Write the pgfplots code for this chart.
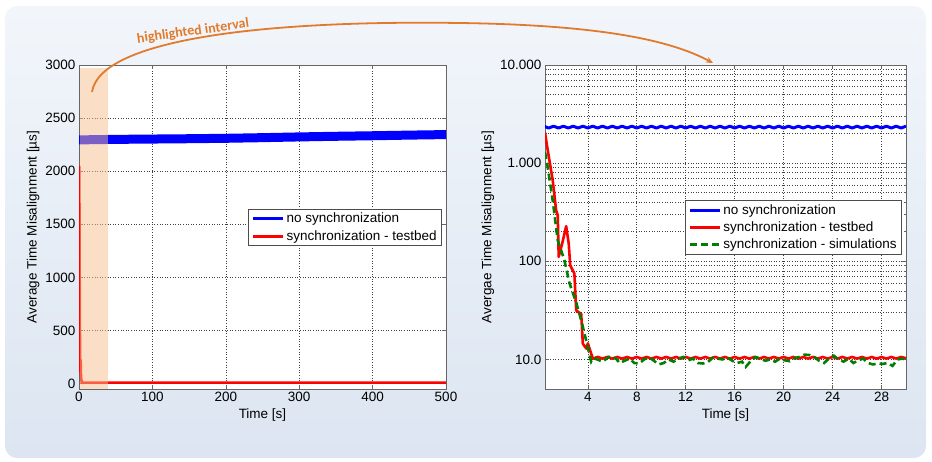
\documentclass[border=0pt]{standalone}
\usepackage{pgfplots}
\pgfplotsset{compat=1.18}
\usepackage{pgfplotstable}
\usepackage{fontspec}
\setmainfont{Liberation Sans}
\newfontfamily\calib{Carlito}
\usetikzlibrary{arrows.meta}
\definecolor{bgtop}{RGB}{242,246,251}
\definecolor{bgbot}{RGB}{220,229,241}
\definecolor{arrowor}{RGB}{226,122,44}
\definecolor{band}{RGB}{247,190,140}
\definecolor{mblue}{RGB}{0,0,255}
\definecolor{mred}{RGB}{255,0,0}
\definecolor{mgreen}{RGB}{0,128,0}

\pgfplotstableread{
t v
0 2295
50 2300
100 2303
150 2306
200 2310
250 2316
300 2323
350 2329
400 2334
450 2340
500 2345
}\blueleft

\pgfplotstableread{
t v
0.5 2050
0.72 1360
1.13 670
1.41 331
1.54 295
1.62 111
1.9 151
2.23 228
2.44 151
2.56 91
2.9 75
3.05 31.6
3.46 29
3.59 14.5
3.87 12.9
4.0 14.6
4.41 10.2
30 10.4
500 10.4
}\redleft

\pgfplotstableread{
t v
0.4 2380
0.8 2280
1.2 2380
1.6 2280
2.0 2380
2.4 2280
2.8 2380
3.2 2280
3.6 2380
4.0 2280
4.4 2380
4.8 2280
5.2 2380
5.6 2280
6.0 2380
6.4 2280
6.8 2380
7.2 2280
7.6 2380
8.0 2280
8.4 2380
8.8 2280
9.2 2380
9.6 2280
10.0 2380
10.4 2280
10.8 2380
11.2 2280
11.6 2380
12.0 2280
12.4 2380
12.8 2280
13.2 2380
13.6 2280
14.0 2380
14.4 2280
14.8 2380
15.2 2280
15.6 2380
16.0 2280
16.4 2380
16.8 2280
17.2 2380
17.6 2280
18.0 2380
18.4 2280
18.8 2380
19.2 2280
19.6 2380
20.0 2280
20.4 2380
20.8 2280
21.2 2380
21.6 2280
22.0 2380
22.4 2280
22.8 2380
23.2 2280
23.6 2380
24.0 2280
24.4 2380
24.8 2280
25.2 2380
25.6 2280
26.0 2380
26.4 2280
26.8 2380
27.2 2280
27.6 2380
28.0 2280
28.4 2380
28.8 2280
29.2 2380
29.6 2280
30.0 2380
}\blueright

\pgfplotstableread{
t v
0.5 2050
0.72 1360
1.13 670
1.41 331
1.54 295
1.62 111
1.9 151
2.23 228
2.44 151
2.56 91
2.9 75
3.05 31.6
3.46 29
3.59 14.5
3.87 12.9
4.0 14.6
4.41 10.2
4.8 10.6
5.2 10.2
5.6 10.6
6.0 10.2
6.4 10.6
6.8 10.2
7.2 10.6
7.6 10.2
8.0 10.6
8.4 10.2
8.8 10.6
9.2 10.2
9.6 10.6
10.0 10.2
10.4 10.6
10.8 10.2
11.2 10.6
11.6 10.2
12.0 10.6
12.4 10.2
12.8 10.6
13.2 10.2
13.6 10.6
14.0 10.2
14.4 10.6
14.8 10.2
15.2 10.6
15.6 10.2
16.0 10.6
16.4 10.2
16.8 10.6
17.2 10.2
17.6 10.6
18.0 10.2
18.4 10.6
18.8 10.2
19.2 10.6
19.6 10.2
20.0 10.6
20.4 10.2
20.8 10.6
21.2 10.2
21.6 10.6
22.0 10.2
22.4 10.6
22.8 10.2
23.2 10.6
23.6 10.2
24.0 10.6
24.4 10.2
24.8 10.6
25.2 10.2
25.6 10.6
26.0 10.2
26.4 10.6
26.8 10.2
27.2 10.6
27.6 10.2
28.0 10.6
28.4 10.2
28.8 10.6
29.2 10.2
29.6 10.6
30.0 10.3
}\redright

\pgfplotstableread{
t v
0.5 1300
0.72 912
1.13 416
1.54 164
2.09 102
2.5 60
3.05 38
3.46 25
3.87 15.5
4.28 9.4
4.6 10.2
5.2 9.5
5.8 10.8
6.3 10.2
6.6 9.2
7.0 9.7
7.4 10.2
7.8 9.2
8.2 9.1
8.6 10.0
9.0 10.5
9.4 9.7
9.8 8.9
10.2 9.2
10.6 10.0
11.0 9.5
11.4 10.2
11.8 10.6
12.2 9.8
12.6 10.2
13.0 9.2
13.4 9.1
13.8 9.4
14.2 10.4
14.6 10.2
15.0 10.0
15.4 10.5
15.8 9.7
16.2 9.2
16.6 9.5
16.9 8.4
17.3 9.6
17.7 10.6
18.1 10.2
18.5 9.7
18.9 10.0
19.3 9.5
19.7 10.2
20.1 9.8
20.5 9.6
20.9 10.3
21.3 10.6
21.7 11.2
22.1 11.1
22.5 10.6
22.9 9.7
23.3 9.2
23.7 10.2
24.1 10.9
24.5 10.0
24.9 9.5
25.3 10.2
25.7 9.2
26.1 9.8
26.5 10.2
26.9 9.2
27.3 8.9
27.7 9.1
28.1 9.0
28.5 9.2
28.9 8.6
29.3 10.0
29.7 10.2
30.0 10.0
}\greenright

\pgfplotsset{
 every axis/.append style={
  scale only axis,
  font=\fontsize{13.5}{15}\selectfont,
  tick label style={font=\fontsize{13.5}{15}\selectfont},
  label style={font=\fontsize{13.5}{15}\selectfont},
  /pgf/number format/assume math mode=true,
  /pgf/number format/1000 sep={},
  axis line style={black!60, line width=0.7pt},
  tick style={black!60, line width=0.6pt},
  tick align=inside,
  major tick length=4pt, minor tick length=2pt,
  grid style={black!75, line width=0.6pt, dash pattern=on 1pt off 1.6pt},
  legend style={draw=black!70, fill=white, line width=0.6pt,
    font=\fontsize{13.5}{15}\selectfont, inner xsep=3pt, inner ysep=2pt,
    row sep=2pt, cells={anchor=west}},
  legend cell align=left,
  legend image code/.code={\draw[#1] (0pt,0pt) -- (30pt,0pt);},
 }
}

\begin{document}
\begin{tikzpicture}
\path[use as bounding box] (0pt,0pt) rectangle (932pt,-461pt);
\shade[top color=bgtop, bottom color=bgbot, rounded corners=12pt] (5pt,-6pt) rectangle (926pt,-458pt);

% left axis
\begin{axis}[at={(79pt,-389pt)}, anchor=south west, width=367pt, height=324pt,
  xmin=0, xmax=500, ymin=-50, ymax=3000,
  xtick={0,100,...,500}, ytick={0,500,...,3000},
  grid=major, axis background/.style={fill=white},
  xlabel={Time [s]}, ylabel={Average Time Misalignment [µs]},
  xlabel style={at={(axis description cs:0.5,-0.0802)}, anchor=center},
  ylabel style={at={(axis description cs:-0.1253,0.5)}, anchor=center},
  legend style={at={(0.989,0.556)}, anchor=north east},
]
\addlegendimage{color=mblue, line width=3pt}
\addlegendentry{no synchronization}
\addlegendimage{color=mred, line width=3pt}
\addlegendentry{synchronization - testbed}
\addplot[color=mblue, line width=9pt, forget plot] table[x=t,y=v] {\blueleft};
\addplot[color=mred, line width=2.6pt, forget plot] table[x=t,y=v] {\redleft};
\fill[band, fill opacity=0.5] (axis cs:0.8,-50) rectangle (axis cs:40,2970);
\end{axis}

% right axis
\begin{axis}[at={(545pt,-389pt)}, anchor=south west, width=361pt, height=324pt,
  xmin=0.5, xmax=30, ymode=log, ymin=5, ymax=10000,
  xtick={4,8,...,28}, ytick={10,100,1000,10000},
  yticklabels={10.0,100,1.000,10.000},
  xmajorgrids, ymajorgrids, yminorgrids,
  minor grid style={black!75, line width=0.6pt, dash pattern=on 1pt off 1.6pt},
  axis background/.style={fill=white},
  xlabel={Time [s]}, ylabel={Avergae Time Misalignment [µs]},
  xlabel style={at={(axis description cs:0.5,-0.0802)}, anchor=center},
  ylabel style={at={(axis description cs:-0.158,0.5)}, anchor=center},
  legend style={at={(0.989,0.583)}, anchor=north east},
]
\addplot[color=mblue, line width=3pt, line join=round] table[x=t,y=v] {\blueright};
\addlegendentry{no synchronization}
\addplot[color=mred, line width=2.6pt, line join=round] table[x=t,y=v] {\redright};
\addlegendentry{synchronization - testbed}
\addplot[color=mgreen, line width=2.6pt, dash pattern=on 7pt off 4pt] table[x=t,y=v] {\greenright};
\addlegendentry{synchronization - simulations}
\end{axis}

% annotation arrow
\draw[arrowor, line width=1.8pt, -{Stealth[length=7pt,width=6pt]}]
  (92pt,-92pt) .. controls (100pt,-40pt) and (260pt,-20pt) .. (460pt,-23pt)
  .. controls (600pt,-25pt) and (670pt,-40pt) .. (713pt,-63pt);
\node[rotate=8, text=arrowor, font=\calib\bfseries\fontsize{14}{16}\selectfont]
  at (193pt,-31.5pt) {highlighted interval};
\end{tikzpicture}
\end{document}
